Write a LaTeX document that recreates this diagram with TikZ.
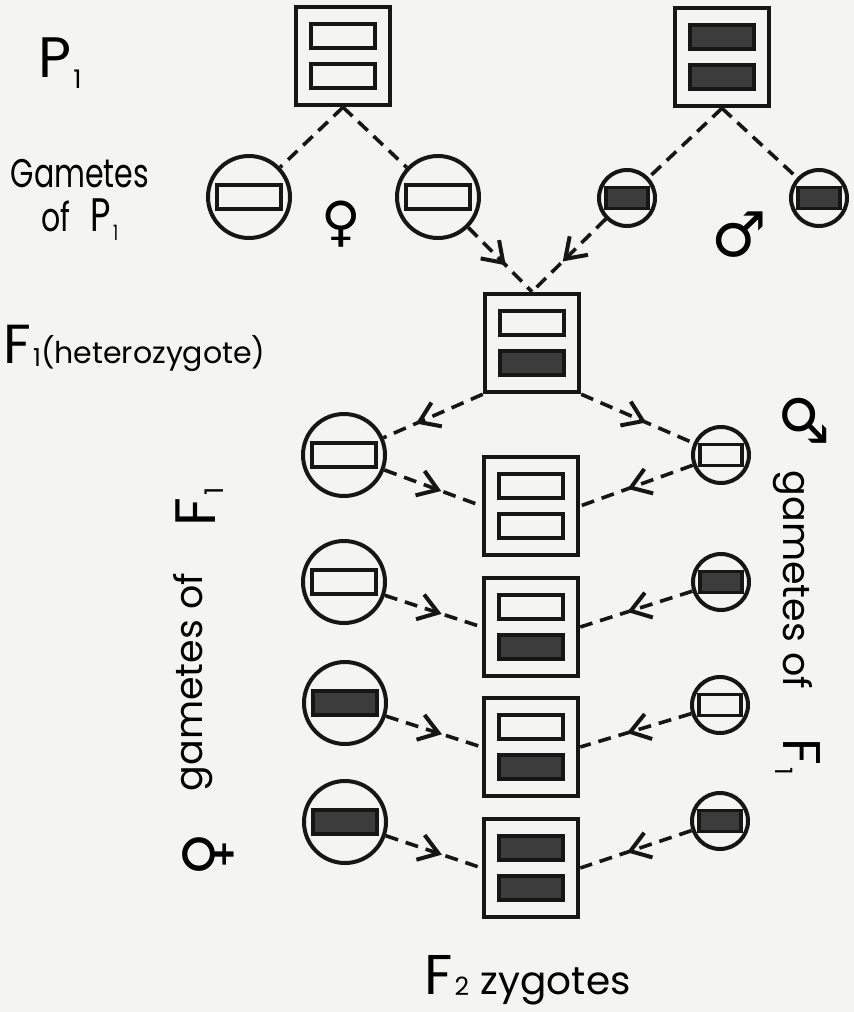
\documentclass[tikz,border=0pt]{standalone}
\usepackage{fontspec}
\setmainfont{Poppins}
\newfontfamily\narrow{Poppins}[FakeStretch=0.75]
\newfontfamily\symfont{DejaVu Sans}
\usetikzlibrary{arrows.meta,decorations.markings}
\definecolor{paper}{HTML}{F4F4F2}
\definecolor{ink}{HTML}{161616}
\definecolor{shade}{HTML}{3C3C3C}

% small lowered index, as in the hand lettering
\newcommand{\low}[2][0.15em]{\kern0.04em\raisebox{-#1}{\scalebox{0.45}{#2}}}
% zygote box with two bars: name, x, y, top fill, bottom fill
\newcommand{\zygote}[5]{%
  \node[zyg] (#1) at (#2,#3) {};
  \node[bar=#4] (#1-a) at ([yshift=20pt]#1.center) {};
  \node[bar=#5] (#1-b) at ([yshift=-20pt]#1.center) {};}
% egg (large) and sperm (small) gametes: name, x, y, fill
\newcommand{\egg}[4]{%
  \node[egg] (#1) at (#2,#3) {};
  \node[bar=#4] (#1-a) at (#1.center) {};}
\newcommand{\sperm}[4]{%
  \node[sperm] (#1) at (#2,#3) {};
  \node[sbar=#4] (#1-a) at (#1.center) {};}

\begin{document}
\begin{tikzpicture}[x=1pt,y=-1pt,
  zyg/.style={draw=ink,line width=4.5pt,minimum width=94pt,minimum height=98pt,inner sep=0pt},
  egg/.style={circle,draw=ink,line width=4pt,minimum size=82pt,inner sep=0pt},
  sperm/.style={circle,draw=ink,line width=4pt,minimum size=56pt,inner sep=0pt},
  bar/.style={draw=ink,line width=3.5pt,fill=#1,minimum width=64pt,minimum height=24pt,inner sep=0pt},
  sbar/.style={bar=#1,minimum width=42pt,minimum height=21pt},
  link/.style={ink,line width=3.6pt,dash pattern=on 13pt off 8pt},
  flow/.style={link,postaction={decorate},decoration={markings,
    mark=at position #1 with {\draw[solid,line width=4pt] (-19pt,13pt) -- (0pt,0pt) -- (-19pt,-13pt);}}},
  flow/.default=0.55,
  lbl/.style={font=\fontsize{38}{38}\selectfont,inner sep=0pt},
  sym/.style={font=\symfont\fontsize{50}{50}\selectfont,inner sep=0pt}
]
  \fill[paper] (0,0) rectangle (854,1012);
  \useasboundingbox (0,0) rectangle (854,1012);

  % parents
  \zygote{pA}{343}{56}{paper}{paper}
  \zygote{pB}{722}{57}{shade}{shade}
  % gametes of P1
  \egg{eA}{249}{197}{paper}
  \egg{eB}{438}{197}{paper}
  \sperm{sA}{627}{198}{shade}
  \sperm{sB}{819}{198}{shade}
  % F1
  \zygote{fA}{532}{343}{paper}{shade}
  % gametes of F1
  \egg{eC}{344}{455}{paper}
  \egg{eD}{344}{582}{paper}
  \egg{eE}{345}{703}{shade}
  \egg{eF}{345}{822}{shade}
  \sperm{sC}{721}{455}{paper}
  \sperm{sD}{721}{582}{shade}
  \sperm{sE}{720}{705}{paper}
  \sperm{sF}{720}{821}{shade}
  % F2 zygotes
  \zygote{zA}{531}{506}{paper}{paper}
  \zygote{zB}{531}{627}{paper}{shade}
  \zygote{zC}{531}{747}{paper}{shade}
  \zygote{zD}{531}{868}{shade}{shade}

  \draw[link] (pA.south) -- (eA); \draw[link] (pA.south) -- (eB);
  \draw[link] (pB.south) -- (sA); \draw[link] (pB.south) -- (sB);
  \draw[flow] (eB) -- (fA.north); \draw[flow] (sA) -- (fA.north);
  \draw[flow=0.64] (fA.south west) -- (eC); \draw[flow] (fA.south east) -- (sC);
  \draw[flow] (eC) -- (zA.west); \draw[flow] (sC) -- (zA.east);
  \draw[flow] (eD) -- (zB.west); \draw[flow] (sD) -- (zB.east);
  \draw[flow] (eE) -- (zC.west); \draw[flow] (sE) -- (zC.east);
  \draw[flow] (eF) -- (zD.west); \draw[flow] (sF) -- (zD.east);

  % labels
  \node[lbl,anchor=base west,font=\fontsize{57}{57}\selectfont] (tP) at (38,77) {P\low[0.2em]{1}};
  \node[lbl,align=center,font=\narrow\fontsize{40}{44}\selectfont] (tGam) at (80,200) {Gametes\\of\enspace{\fontsize{47}{47}\selectfont P\low[0.2em]{1}}};
  \node[lbl,anchor=base west,font=\fontsize{30}{30}\selectfont] (tF1) at (3,363) {{\fontsize{55}{55}\selectfont F\low[0.06em]{1}}(heterozygote)};
  \node[sym,font=\symfont\fontsize{54}{54}\selectfont] (fem) at (341,224) {♀};
  \node[sym,font=\symfont\fontsize{62}{62}\selectfont] (mal) at (739,235) {♂};
  \node[sym,rotate=90,font=\symfont\fontsize{60}{60}\selectfont] (femL) at (208,855) {♀};
  \node[lbl,rotate=90,anchor=base] (gamL) at (202,682) {gametes of};
  \node[lbl,rotate=90,anchor=base,font=\fontsize{57}{57}\selectfont] (F1L) at (215,507) {F\low{1}};
  \node[sym,rotate=-90,font=\symfont\fontsize{60}{60}\selectfont] (malR) at (805,420) {♂};
  \node[lbl,rotate=-90,anchor=base] (gamR) at (783,580) {gametes of};
  \node[lbl,rotate=-90,anchor=base,font=\fontsize{53}{53}\selectfont] (F1R) at (783,757) {F\low{1}};
  \node[lbl,anchor=base west,font=\fontsize{39}{39}\selectfont] (tF2) at (424,994) {{\fontsize{56}{56}\selectfont F\low[0.03em]{2}}\kern0.3em zygotes};
\end{tikzpicture}
\end{document}
